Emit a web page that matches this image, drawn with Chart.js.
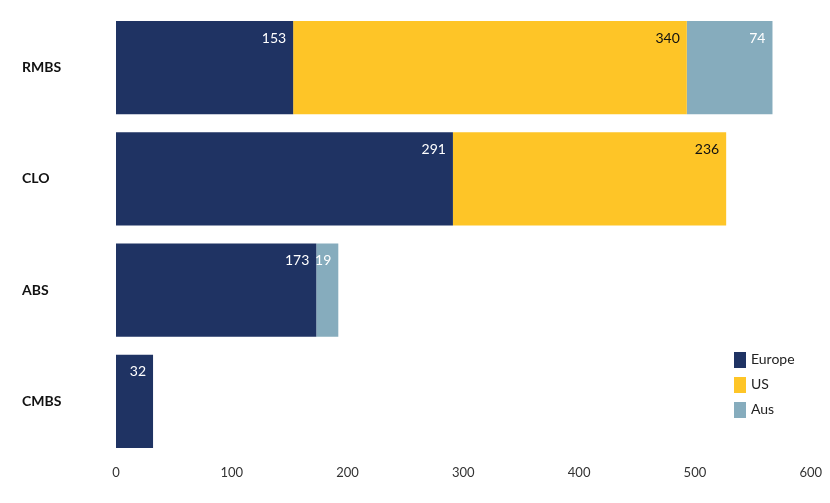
<!DOCTYPE html>
<html>
<head>
<meta charset="utf-8">
<script src="https://cdn.jsdelivr.net/npm/chart.js@4.4.1/dist/chart.umd.min.js"></script>
<style>
  html, body { margin: 0; padding: 0; background: #fff; }
  #wrap { position: relative; width: 830px; height: 503px; }
  #legend { position: absolute; left: 734px; top: 350px; font-family: Lato, "Open Sans", sans-serif; font-size: 14px; color: #222; }
  #legend div { height: 25px; display: flex; align-items: flex-start; }
  #legend span.box { display: inline-block; width: 12px; height: 16px; margin-right: 5px; margin-top: 2px; }
</style>
</head>
<body>
<div id="wrap">
  <canvas id="chart" width="830" height="503"></canvas>
  <div id="legend"></div>
</div>
<script>
var categories = ["RMBS", "CLO", "ABS", "CMBS"]
var europe = [153, 291, 173, 32]
var us = [340, 236, 0, 0]
var aus = [74, 0, 19, 0]
var xTicks = [0, 100, 200, 300, 400, 500, 600]

var seriesNames = ["Europe", "US", "Aus"]
var seriesColors = ["rgb(31, 51, 99)", "rgb(254, 197, 39)", "rgb(134, 172, 189)"]
var labelColors = ["#ffffff", "#111111", "#ffffff"]

const data = {
    labels: categories,
    datasets: [europe, us, aus].map(function (vals, i) {
        return {
            label: seriesNames[i],
            data: vals,
            backgroundColor: seriesColors[i],
            borderWidth: 0,
            categoryPercentage: 1,
            barPercentage: 0.836,
        }
    })
};

// value labels drawn inside the right end of each segment
const valueLabels = {
    id: 'valueLabels',
    afterDatasetsDraw(chart) {
        const ctx = chart.ctx;
        ctx.save();
        ctx.font = '14px Lato, "Open Sans", sans-serif';
        ctx.textAlign = 'right';
        ctx.textBaseline = 'middle';
        chart.data.datasets.forEach(function (ds, i) {
            const meta = chart.getDatasetMeta(i);
            meta.data.forEach(function (bar, j) {
                const v = ds.data[j];
                if (!v) return;
                ctx.fillStyle = labelColors[i];
                ctx.fillText(String(v), bar.x - 7, bar.y - bar.height / 2 + 17);
            });
        });
        ctx.restore();
    }
};

const options = {
    animation: false,
    responsive: false,
    indexAxis: 'y',
    layout: {
        padding: { left: 22, right: 18, top: 12, bottom: 0 }
    },
    scales: {
        x: {
            stacked: true,
            min: 0,
            max: 600,
            afterBuildTicks: function (scale) {
                scale.ticks = xTicks.map(function (v) { return { value: v } });
            },
            afterFit: function (scale) { scale.height = 46; },
            grid: { display: false, drawTicks: false },
            border: { display: false },
            ticks: {
                padding: 8,
                color: "#333",
                font: { family: 'Lato, "Open Sans", sans-serif', size: 13 },
            }
        },
        y: {
            stacked: true,
            afterFit: function (scale) { scale.width = 94; },
            grid: { display: false, drawTicks: false },
            border: { display: false },
            ticks: {
                crossAlign: 'far',
                color: "#111",
                font: { family: 'Lato, "Open Sans", sans-serif', size: 14, weight: 'bold' },
            }
        }
    },
    plugins: {
        legend: { display: false },
        tooltip: { enabled: false }
    },
};

const chart = new Chart(
    document.getElementById('chart'),
    { type: 'bar', data: data, options: options, plugins: [valueLabels] }
);

// legend from the datasets
var legendEl = document.getElementById('legend');
chart.data.datasets.forEach(function (ds) {
    var row = document.createElement('div');
    var box = document.createElement('span');
    box.className = 'box';
    box.style.background = ds.backgroundColor;
    row.appendChild(box);
    row.appendChild(document.createTextNode(ds.label));
    legendEl.appendChild(row);
});
</script>
</body>
</html>
